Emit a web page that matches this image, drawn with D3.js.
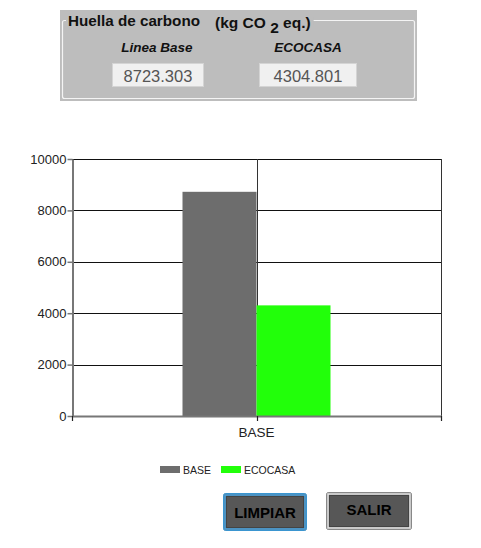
<!DOCTYPE html>
<html><head><meta charset="utf-8">
<script src="https://cdn.jsdelivr.net/npm/d3@7"></script>
<style>body{margin:0;background:#fff;font-family:"Liberation Sans",Arial,sans-serif}</style>
</head><body>
<svg id="c" width="481" height="548"></svg>
<script>
const categories = ["BASE"];
const seriesNames = ["BASE", "ECOCASA"];
const seriesValues = [8723.303, 4304.801];
const seriesColors = ["#6d6d6d", "#22ff0a"];
const yTicks = [0, 2000, 4000, 6000, 8000, 10000];
const panelLabels = ["Linea Base", "ECOCASA"];
const panelValues = ["8723.303", "4304.801"];
const buttons = ["LIMPIAR", "SALIR"];

const svg = d3.select("#c");
const F = '"Liberation Sans",Arial,sans-serif';

// Panel
svg.append("rect").attr("x",60).attr("y",10).attr("width",357).attr("height",91).attr("fill","#bdbdbd");
svg.append("rect").attr("x",62.5).attr("y",20.5).attr("width",352).attr("height",78).attr("rx",2)
  .attr("fill","none").attr("stroke","#f4f4f4").attr("stroke-width",1.2);
const tg = svg.append("g");
const t1 = tg.append("text").attr("x",68).attr("y",26).attr("font-family",F).attr("font-size",15)
  .attr("font-weight","bold").attr("fill","#111").attr("textLength",132).attr("lengthAdjust","spacingAndGlyphs")
  .text("Huella de carbono");
const t2 = tg.append("text").attr("x",215).attr("y",28).attr("font-family",F).attr("font-size",15.5)
  .attr("font-weight","bold").attr("fill","#111");
t2.append("tspan").text("(kg CO ");
t2.append("tspan").attr("dy",5).text("2");
t2.append("tspan").attr("dy",-5).text(" eq.)");
const b1 = t1.node().getBBox(), b2 = t2.node().getBBox();
svg.insert("rect", "g").attr("x",b1.x-2).attr("y",17).attr("width",(b2.x+b2.width)-b1.x+5).attr("height",8).attr("fill","#bdbdbd");

const pCenters = [157, 308];
const boxX = [112, 259], boxW = [91, 97];
panelLabels.forEach((l,i)=>{
  svg.append("text").attr("x",pCenters[i]).attr("y",52).attr("text-anchor","middle")
    .attr("font-family",F).attr("font-size",13.5).attr("font-weight","bold").attr("font-style","italic")
    .attr("fill","#111").text(l);
  svg.append("rect").attr("x",boxX[i]+0.5).attr("y",63.5).attr("width",boxW[i]).attr("height",23)
    .attr("fill","#f0f0f0").attr("stroke","#d4d4d4");
  svg.append("text").attr("x",boxX[i]+boxW[i]/2+0.5).attr("y",81.5).attr("text-anchor","middle")
    .attr("font-family",F).attr("font-size",16.5).attr("fill","#555").text(panelValues[i]);
});

// Chart
const x0 = 72, x1 = 441, yTop = 159, yBot = 416;
const y = d3.scaleLinear().domain([0,10000]).range([yBot,yTop]);
const xb = d3.scaleBand().domain(categories).range([x0,x1]).padding(0);
const g = svg.append("g");
yTicks.forEach(t=>{
  if(t===0) return;
  g.append("line").attr("x1",x0).attr("x2",x1).attr("y1",Math.round(y(t))+0.5).attr("y2",Math.round(y(t))+0.5)
    .attr("stroke","#111").attr("stroke-width",1);
});
const cx = xb("BASE")+xb.bandwidth()/2;
[x0, cx, x1].forEach(v=>{
  g.append("line").attr("x1",Math.round(v)+0.5).attr("x2",Math.round(v)+0.5).attr("y1",yTop).attr("y2",yBot)
    .attr("stroke","#333").attr("stroke-width",1);
});
const xs = d3.scaleBand().domain(seriesNames).range([cx-74, cx+74]).padding(0);
seriesValues.forEach((v,i)=>{
  g.append("rect").attr("x",xs(seriesNames[i])).attr("y",y(v)).attr("width",xs.bandwidth()).attr("height",yBot-y(v))
    .attr("fill",seriesColors[i]);
});
const ya = g.append("g").attr("transform",`translate(${x0+0.5},0)`)
  .call(d3.axisLeft(y).tickValues(yTicks).tickSize(5).tickSizeOuter(0).tickFormat(d3.format("d")));
ya.select(".domain").attr("stroke","#777").attr("stroke-width",2);
ya.selectAll(".tick line").attr("stroke","#777").attr("stroke-width",1.5);
ya.selectAll(".tick text").attr("font-family",F).attr("font-size",13).attr("fill","#222").attr("dx",2);
g.append("line").attr("x1",x0).attr("x2",x1+1).attr("y1",yBot+0.5).attr("y2",yBot+0.5)
  .attr("stroke","#777").attr("stroke-width",2);
[x0, cx, x1].forEach(v=>{
  g.append("line").attr("x1",Math.round(v)+0.5).attr("x2",Math.round(v)+0.5).attr("y1",yBot).attr("y2",yBot+5)
    .attr("stroke","#222").attr("stroke-width",1.2);
});
g.append("text").attr("x",cx).attr("y",437).attr("text-anchor","middle").attr("font-family",F)
  .attr("font-size",13.5).attr("fill","#222").text(categories[0]);

// legend
const lx = [160, 221];
seriesNames.forEach((n,i)=>{
  svg.append("rect").attr("x",lx[i]).attr("y",466).attr("width",20).attr("height",7).attr("fill",seriesColors[i]);
  svg.append("text").attr("x",lx[i]+23).attr("y",473.5).attr("font-family",F).attr("font-size",10.5)
    .attr("fill","#222").text(n);
});

// buttons
const bxs = [[223,493,84,38,"#4aa3df"],[326,492,86,38,"#e6e6e6"]];
buttons.forEach((b,i)=>{
  const [bx,by,bw2,bh,bc] = bxs[i];
  svg.append("rect").attr("x",bx+0.5).attr("y",by+0.5).attr("width",bw2-1).attr("height",bh-1).attr("rx",2)
    .attr("fill","#555").attr("stroke",i===0?"#3a95d0":"#888").attr("stroke-width",1);
  svg.append("rect").attr("x",bx+2).attr("y",by+2).attr("width",bw2-4).attr("height",bh-4)
    .attr("fill","none").attr("stroke",bc).attr("stroke-width",1.6);
  svg.append("rect").attr("x",bx+3.5).attr("y",by+3.5).attr("width",bw2-7).attr("height",bh-7)
    .attr("fill","#575757").attr("stroke","#444");
  svg.append("text").attr("x",bx+bw2/2).attr("y",by+bh/2+ (i===0?6:4)).attr("text-anchor","middle")
    .attr("font-family",F).attr("font-size",15).attr("font-weight","bold").attr("fill","#000").text(b);
});
</script>
</body></html>
